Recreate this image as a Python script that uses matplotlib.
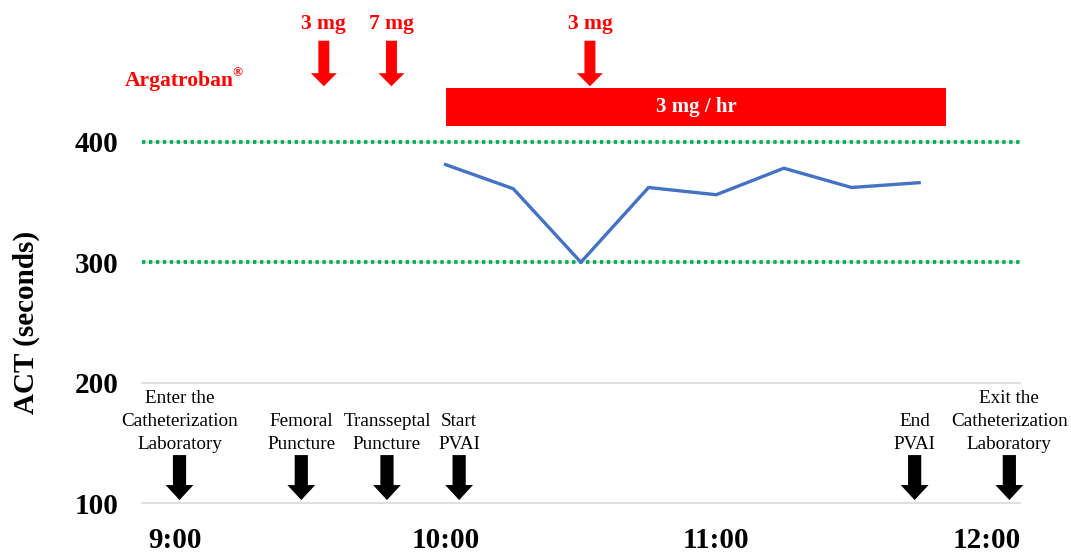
import matplotlib
matplotlib.use("Agg")
import matplotlib.pyplot as plt

# ---------------- data ----------------
sample_times = ["10:00", "10:15", "10:30", "10:45", "11:00", "11:15", "11:30", "11:45"]
act_values = [381, 361, 300, 362, 356, 378, 362, 366]

target_low = 300
target_high = 400

event_labels = ["Enter the\nCatheterization\nLaboratory", "Femoral\nPuncture",
                "Transseptal\nPuncture", "Start\nPVAI", "End\nPVAI",
                "Exit the\nCatheterization\nLaboratory"]
event_times = ["9:01", "9:28", "9:47", "10:03", "11:44", "12:05"]

bolus_labels = ["3 mg", "7 mg", "3 mg"]
bolus_times = ["9:33", "9:48", "10:32"]

drug_label = "Argatroban"
drug_label_end = "9:13"

infusion_label = "3 mg / hr"
infusion_start = "10:00"
infusion_end = "11:51"

xtick_times = ["9:00", "10:00", "11:00", "12:00"]
yticks = [100, 200, 300, 400]


def hours(t):
    h, m = t.split(":")
    return int(h) + int(m) / 60.0


plt.rcParams['font.family'] = ['Liberation Serif', 'DejaVu Serif']

fig = plt.figure(figsize=(10.71, 5.53), dpi=100)
ax = fig.add_axes([142 / 1071, 1 - 503.3 / 553, (1020 - 142) / 1071, (503.3 - 141.7) / 553])

x0 = 9 + (142 - 175) / 270.6
x1 = 9 + (1020 - 175) / 270.6
ax.set_xlim(x0, x1)
ax.set_ylim(100, 400)

for s in ax.spines.values():
    s.set_visible(False)

ax.set_yticks(yticks)
ax.set_yticklabels([str(v) for v in yticks], fontsize=21, fontweight='bold')
ax.set_xticks([hours(t) for t in xtick_times])
ax.set_xticklabels(xtick_times, fontsize=21, fontweight='bold')
ax.tick_params(axis='both', length=0)
ax.tick_params(axis='y', pad=17)
ax.tick_params(axis='x', pad=17)
ax.yaxis.grid(True, color='#d9d9d9', linewidth=1.2)
ax.xaxis.grid(False)
ax.set_axisbelow(True)
for gl in ax.get_ygridlines():
    gl.set_clip_on(False)

ax.set_ylabel("ACT (seconds)", fontsize=21, fontweight='bold', labelpad=25)

# target range lines
for yv in (target_low, target_high):
    ax.axhline(yv, color='#00b050', linewidth=2.7, linestyle=(0, (0.9, 0.95)),
               zorder=2, clip_on=False)

# ACT line
ax.plot([hours(t) for t in sample_times], act_values, color='#4472c4', linewidth=2.4, zorder=3)

# infusion bar
ts, te = hours(infusion_start), hours(infusion_end)
ax.fill_between([ts, te], 413.0, 444.6, color='#ff0000', linewidth=0, zorder=3, clip_on=False)
ax.text((ts + te) / 2, 428.8, infusion_label, color='white', fontsize=15, fontweight='bold',
        ha='center', va='center', zorder=4, clip_on=False)

# Argatroban label
xd = hours(drug_label_end)
ax.text(xd, 446.5, drug_label, color='#ff0000', fontsize=15.5, fontweight='bold',
        ha='right', va='baseline', clip_on=False)
ax.annotate("®", xy=(xd, 446.5), xytext=(-0.8, 6.5), textcoords='offset points',
            color='#ff0000', fontsize=9.5, fontweight='bold', ha='left', va='baseline',
            annotation_clip=False)

# bolus arrows
red_style = "simple,head_length=0.94,head_width=1.87,tail_width=0.79"
for lab, t in zip(bolus_labels, bolus_times):
    x = hours(t)
    ax.annotate("", xy=(x, 446.0), xytext=(x, 483.8),
                arrowprops=dict(arrowstyle=red_style, color='#ff0000', mutation_scale=10,
                                shrinkA=0, shrinkB=0, linewidth=0),
                annotation_clip=False)
    ax.text(x, 498.0, lab, color='#ff0000', fontsize=15.5, fontweight='bold',
            ha='center', va='center', clip_on=False)

# event arrows
black_style = "simple,head_length=1.08,head_width=2.0,tail_width=0.95"
for lab, t in zip(event_labels, event_times):
    x = hours(t)
    ax.annotate("", xy=(x, 102.7), xytext=(x, 140.0),
                arrowprops=dict(arrowstyle=black_style, color='black', mutation_scale=10,
                                shrinkA=0, shrinkB=0, linewidth=0),
                annotation_clip=False, zorder=4)
    ax.text(x, 142.0, lab, color='black', fontsize=13.8, ha='center', va='bottom',
            multialignment='center', linespacing=1.45, clip_on=False)

fig.savefig("out.png", dpi=100)
